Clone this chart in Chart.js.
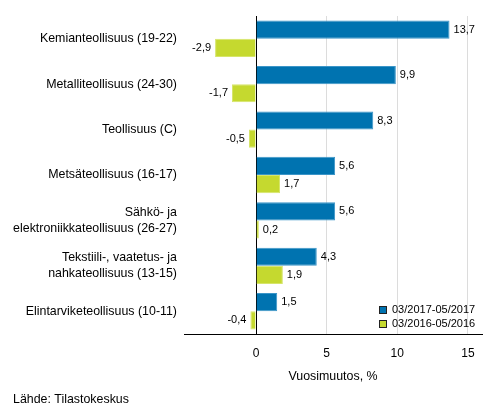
<!DOCTYPE html>
<html>
<head>
<meta charset="utf-8">
<script src="https://cdn.jsdelivr.net/npm/chart.js@4"></script>
<style>
  html, body { margin: 0; padding: 0; background: #fff; }
  #wrap { width: 493px; height: 416px; position: relative; }
</style>
</head>
<body>
<div id="wrap"><canvas id="chart"></canvas></div>
<script>
const categories = [
  'Kemianteollisuus (19-22)',
  'Metalliteollisuus (24-30)',
  'Teollisuus (C)',
  'Metsäteollisuus (16-17)',
  ['Sähkö- ja', 'elektroniikkateollisuus (26-27)'],
  ['Tekstiili-, vaatetus- ja', 'nahkateollisuus (13-15)'],
  'Elintarviketeollisuus (10-11)'
];
const seriesNames = ['03/2017-05/2017', '03/2016-05/2016'];
const current = [13.7, 9.9, 8.3, 5.6, 5.6, 4.3, 1.5];
const previous = [-2.9, -1.7, -0.5, 1.7, 0.2, 1.9, -0.4];
const xTicks = [0, 5, 10, 15];
const colors = ['#0073b0', '#c5d92f'];
const FONT = 'Liberation Sans, Arial, sans-serif';

const fmt = v => String(v).replace('.', ',');

// value labels at bar ends + legend + source line
const extras = {
  id: 'extras',
  afterDatasetsDraw(chart) {
    const ctx = chart.ctx;
    ctx.save();
    ctx.font = '11px ' + FONT;
    ctx.fillStyle = '#000';
    ctx.textBaseline = 'middle';
    chart.data.datasets.forEach((ds, i) => {
      chart.getDatasetMeta(i).data.forEach((bar, j) => {
        const v = ds.data[j];
        if (v >= 0) {
          ctx.textAlign = 'left';
          ctx.fillText(fmt(v), bar.x + 4, bar.y);
        } else {
          ctx.textAlign = 'right';
          ctx.fillText(fmt(v), bar.x - 4, bar.y);
        }
      });
    });

    const a = chart.chartArea;
    ctx.textAlign = 'left';
    seriesNames.forEach((name, i) => {
      const y = a.bottom - 24 + i * 14;
      ctx.fillStyle = colors[i];
      ctx.fillRect(379, y - 4, 8, 8);
      ctx.strokeStyle = '#222';
      ctx.lineWidth = 1;
      ctx.strokeRect(379.5, y - 3.5, 7, 7);
      ctx.fillStyle = '#000';
      ctx.fillText(name, 392, y);
    });

    ctx.font = '12.4px ' + FONT;
    ctx.fillText('Lähde: Tilastokeskus', 13, 400);
    ctx.restore();
  }
};

new Chart(document.getElementById('chart'), {
  type: 'bar',
  data: {
    labels: categories,
    datasets: [
      { label: seriesNames[0], data: current, backgroundColor: colors[0], borderColor: '#3b95c8', borderWidth: 1 },
      { label: seriesNames[1], data: previous, backgroundColor: colors[1], borderColor: '#d6e56a', borderWidth: 1 }
    ]
  },
  options: {
    indexAxis: 'y',
    responsive: true,
    maintainAspectRatio: false,
    animation: false,
    layout: { padding: { top: 16, right: 11, left: 0, bottom: 28 } },
    datasets: { bar: { categoryPercentage: 0.8, barPercentage: 1.0 } },
    plugins: { legend: { display: false }, tooltip: { enabled: false } },
    scales: {
      x: {
        min: -5.1,
        max: 16,
        afterBuildTicks: s => { s.ticks = xTicks.map(v => ({ value: v })); },
        afterFit: s => { s.height = 54; },
        grid: {
          color: c => (c.tick && c.tick.value === 0 ? '#000' : '#dcdcdc'),
          drawTicks: false
        },
        border: { display: true, color: '#000' },
        ticks: { color: '#000', font: { family: FONT, size: 12 }, padding: 12 },
        title: { display: true, text: 'Vuosimuutos, %', color: '#000', font: { family: FONT, size: 12.4 }, padding: { top: 4, bottom: 4 } }
      },
      y: {
        afterFit: s => { s.width = 184; },
        grid: { display: false, drawTicks: false },
        border: { display: false },
        ticks: { color: '#000', font: { family: FONT, size: 12.4, lineHeight: 1.3 }, padding: 7 }
      }
    }
  },
  plugins: [extras]
});
</script>
</body>
</html>
